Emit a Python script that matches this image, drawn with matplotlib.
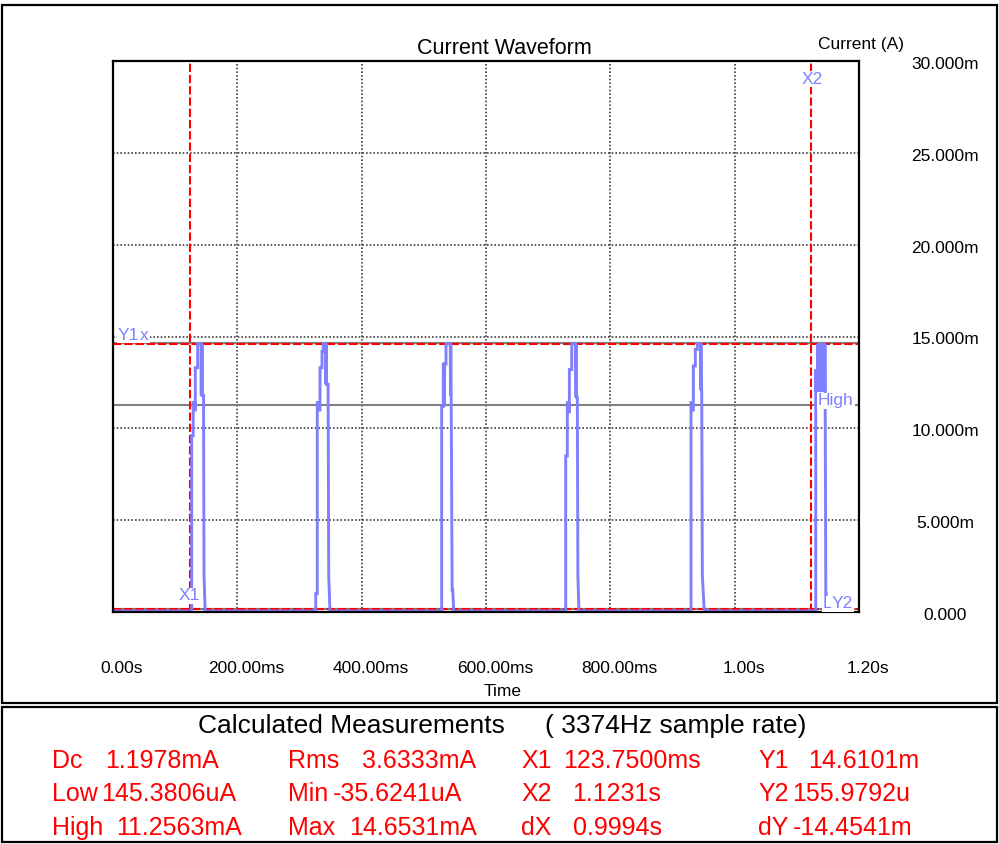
import matplotlib
matplotlib.use('Agg')
import matplotlib.pyplot as plt
from matplotlib import font_manager
from matplotlib.patches import Rectangle
from matplotlib.transforms import ScaledTranslation

# ---------------- data ----------------
x_ticks_s = [0.0, 0.2, 0.4, 0.6, 0.8, 1.0, 1.2]
x_tick_labels = ['0.00s', '200.00ms', '400.00ms', '600.00ms', '800.00ms', '1.00s', '1.20s']
y_ticks_mA = [0, 5, 10, 15, 20, 25, 30]
y_tick_labels = ['0.000', '5.000m', '10.000m', '15.000m', '20.000m', '25.000m', '30.000m']

baseline_mA = 0.05
# pulse vertices (time in ms, current in mA)
p1_t = [126.6, 126.6, 129.0, 129.0, 131.5, 131.5, 132.4, 132.4, 136.2, 136.2, 141.6, 142.0, 142.4, 142.8, 143.2, 143.2, 145.6, 146.4, 148.2]
p1_v = [0.05, 9.6, 9.6, 11.4, 11.4, 11.0, 11.0, 13.3, 13.3, 14.6, 14.6, 11.8, 14.6, 11.8, 14.6, 11.8, 11.8, 2.0, 0.05]
p2_t = [326.1, 326.1, 328.6, 328.6, 330.6, 330.6, 333.0, 333.0, 336.2, 336.2, 338.3, 338.3, 342.2, 342.6, 343.0, 343.4, 346.0, 347.0, 349.0]
p2_v = [0.05, 1.0, 1.0, 11.4, 11.4, 11.0, 11.0, 13.3, 13.3, 14.2, 14.2, 14.6, 14.6, 12.4, 14.6, 12.4, 12.4, 2.0, 0.05]
p3_t = [528.7, 528.7, 531.3, 531.3, 532.5, 533.0, 533.5, 535.7, 535.7, 542.5, 542.9, 543.3, 544.0, 545.5, 546.5, 548.0]
p3_v = [0.05, 11.2, 11.2, 13.5, 13.5, 11.2, 13.5, 13.5, 14.6, 14.6, 11.8, 14.6, 11.8, 1.2, 1.2, 0.05]
p4_t = [728.2, 728.2, 730.8, 730.8, 733.0, 733.0, 734.1, 734.1, 737.9, 737.9, 744.4, 744.8, 745.2, 745.6, 746.9, 747.8, 749.5]
p4_v = [0.05, 8.5, 8.5, 11.4, 11.4, 10.9, 10.9, 13.2, 13.2, 14.6, 14.6, 11.7, 14.6, 11.7, 11.7, 2.0, 0.05]
p5_t = [929.8, 929.8, 931.5, 931.5, 933.5, 933.5, 936.7, 936.7, 939.9, 939.9, 945.0, 945.4, 945.8, 946.2, 947.0, 948.0, 951.0]
p5_v = [0.05, 11.4, 11.4, 11.0, 11.0, 13.4, 13.4, 14.3, 14.3, 14.6, 14.6, 12.1, 14.6, 12.1, 12.1, 2.0, 0.05]
p6_t = [1130.4, 1130.4, 1131.2, 1131.6, 1132.0, 1132.4, 1132.8, 1133.2, 1133.6, 1134.0, 1134.4, 1134.8,
        1135.2, 1135.6, 1136.0, 1136.4, 1136.8, 1137.2, 1137.6, 1138.0, 1138.4, 1138.8, 1139.2, 1139.6,
        1140.0, 1140.4, 1140.8, 1141.2, 1141.6, 1142.0, 1142.4, 1142.8, 1143.2, 1143.6, 1144.0, 1144.4,
        1144.8, 1145.2, 1145.6, 1146.6, 1147.0, 1147.8, 1152.0]
p6_v = [0.05, 13.2, 12.0, 13.2, 12.0, 13.2, 12.0, 13.2, 12.0, 14.6, 12.0, 14.6,
        12.0, 14.6, 12.0, 14.6, 12.0, 14.6, 12.0, 14.6, 12.0, 14.6, 12.0, 14.6,
        12.0, 14.6, 12.0, 14.6, 12.0, 14.6, 12.0, 14.6, 12.0, 14.6, 12.0, 14.6,
        12.0, 14.6, 12.0, 1.0, 1.0, 0.05, 0.05]
pulses = [(p1_t, p1_v), (p2_t, p2_v), (p3_t, p3_v), (p4_t, p4_v), (p5_t, p5_v), (p6_t, p6_v)]

x1_s, x2_s = 0.12375, 1.1231
y1_mA, y2_mA = 14.6101, 0.1559792
high_mA, low_mA, max_mA = 11.2563, 0.1453806, 14.6531

meas_labels = [['Dc', 'Rms', 'X1', 'Y1'],
               ['Low', 'Min', 'X2', 'Y2'],
               ['High', 'Max', 'dX', 'dY']]
meas_values = [['1.1978mA', '3.6333mA', '123.7500ms', '14.6101m'],
               ['145.3806uA', '-35.6241uA', '1.1231s', '155.9792u'],
               ['11.2563mA', '14.6531mA', '0.9994s', '-14.4541m']]

# ---------------- fonts ----------------
names = {f.name for f in font_manager.fontManager.ttflist}
REG = 'Liberation Sans' if 'Liberation Sans' in names else 'DejaVu Sans'
NARROW = 'Liberation Sans Narrow' if 'Liberation Sans Narrow' in names else REG
plt.rcParams['font.family'] = [REG, 'DejaVu Sans']

W, H = 999, 844
fig = plt.figure(figsize=(W / 100, H / 100), dpi=100)
fig.patch.set_facecolor('white')

def fx(px):
    return px / W

def fy(py):
    return 1 - py / H

ax = fig.add_axes([fx(113), fy(612), fx(859) - fx(113), fy(61) - fy(612)])
ax.set_xlim(0, 1.2)
ax.set_ylim(0, 30)

# grid
grid_kw = dict(color='#404040', lw=1.2, ls=(0, (1, 1.2)), zorder=1)
for xv in x_ticks_s[1:-1]:
    ax.axvline(xv, **grid_kw)
for yv in y_ticks_mA[1:-1]:
    ax.axhline(yv, **grid_kw)

# measurement level lines
for lv in (high_mA, max_mA, low_mA):
    ax.axhline(lv, color='#808080', lw=1.5, zorder=1.5)

# cursors
red_kw = dict(color='#ff0000', lw=1.5, ls=(0, (4, 1.4)), zorder=1.8)
ax.axvline(x1_s, **red_kw)
ax.axvline(x2_s, **red_kw)
ax.axhline(y1_mA, **red_kw)
ax.axhline(y2_mA, **red_kw)

# waveform
t_all = [0.0]
v_all = [baseline_mA]
for pt, pv in pulses:
    t_all += [t / 1000 for t in pt]
    v_all += pv
ax.plot(t_all, v_all, color='#8080ff', lw=2.1, zorder=2, solid_joinstyle='miter')

# labels
lab_col = '#8080ff'
bb = dict(facecolor='white', edgecolor='none', pad=0.6)
def px2t(px):
    return (px - 113) * 1.2 / 746

def py2v(py):
    return (612 - py) * 30 / 551

lab_kw = dict(color=lab_col, fontsize=12.5, va='center', bbox=bb, zorder=4)
ax.text(px2t(118), py2v(335), 'Y1', ha='left', **lab_kw)
ax.text(px2t(140), py2v(335), 'x', ha='left', **lab_kw)
ax.text(px2t(189), py2v(596), 'X1', ha='center', **lab_kw)
ax.text(px2t(812), py2v(79), 'X2', ha='center', **lab_kw)
ax.text(px2t(818), py2v(401), 'High', ha='left', **lab_kw)
ax.text(px2t(823), py2v(604), 'L', ha='left', **lab_kw)
ax.text(px2t(832), py2v(604), 'Y2', ha='left', **lab_kw)

# axes styling
for s in ax.spines.values():
    s.set_linewidth(1.6)
    s.set_color('black')
    s.set_zorder(2.5)
ax.set_xticks(x_ticks_s)
ax.set_xticklabels(x_tick_labels, fontsize=12.5)
ax.tick_params(axis='x', length=0, pad=35)
for lab in ax.get_xticklabels():
    lab.set_transform(lab.get_transform() + ScaledTranslation(9 / 100, 0, fig.dpi_scale_trans))
ax.yaxis.tick_right()
ax.set_yticks(y_ticks_mA)
ax.set_yticklabels(y_tick_labels, fontsize=12.5)
ax.tick_params(axis='y', length=0, pad=62)
for lab in ax.get_yticklabels():
    lab.set_horizontalalignment('center')
    lab.set_transform(lab.get_transform() + ScaledTranslation(0, -2 / 100, fig.dpi_scale_trans))

fig.text(fx(504), fy(48), 'Current Waveform', fontsize=15.5, ha='center', va='center')
fig.text(fx(861), fy(44), 'Current (A)', fontsize=12.5, ha='center', va='center')
fig.text(fx(503), fy(691), 'Time', fontsize=12.5, ha='center', va='center')

# frames
fig.add_artist(Rectangle((fx(2), fy(703)), fx(997) - fx(2), fy(5) - fy(703), transform=fig.transFigure,
                         fill=False, lw=1.6, edgecolor='black'))
fig.add_artist(Rectangle((fx(2), fy(842)), fx(997) - fx(2), fy(707) - fy(842), transform=fig.transFigure,
                         fill=False, lw=1.6, edgecolor='black'))

# measurement panel
fam = [NARROW, 'DejaVu Sans']
fig.text(fx(351), fy(726), 'Calculated Measurements', fontsize=19, family=fam, ha='center', va='center')
fig.text(fx(545), fy(726), '( 3374Hz sample rate)', fontsize=19, family=fam, ha='left', va='center')
row_y = [761, 794, 828]
label_x = [52, 288, 521, 758]
value_x = [[105, 362, 563, 808],
           [101, 333, 572, 792],
           [116, 349, 573, 793]]
for r in range(3):
    for c in range(4):
        fig.text(fx(label_x[c]), fy(row_y[r]), meas_labels[r][c], fontsize=18, color='#ff0000',
                 family=fam, ha='left', va='center')
        fig.text(fx(value_x[r][c]), fy(row_y[r]), meas_values[r][c], fontsize=18, color='#ff0000',
                 family=fam, ha='left', va='center')

fig.savefig('out.png', dpi=100, facecolor='white')
